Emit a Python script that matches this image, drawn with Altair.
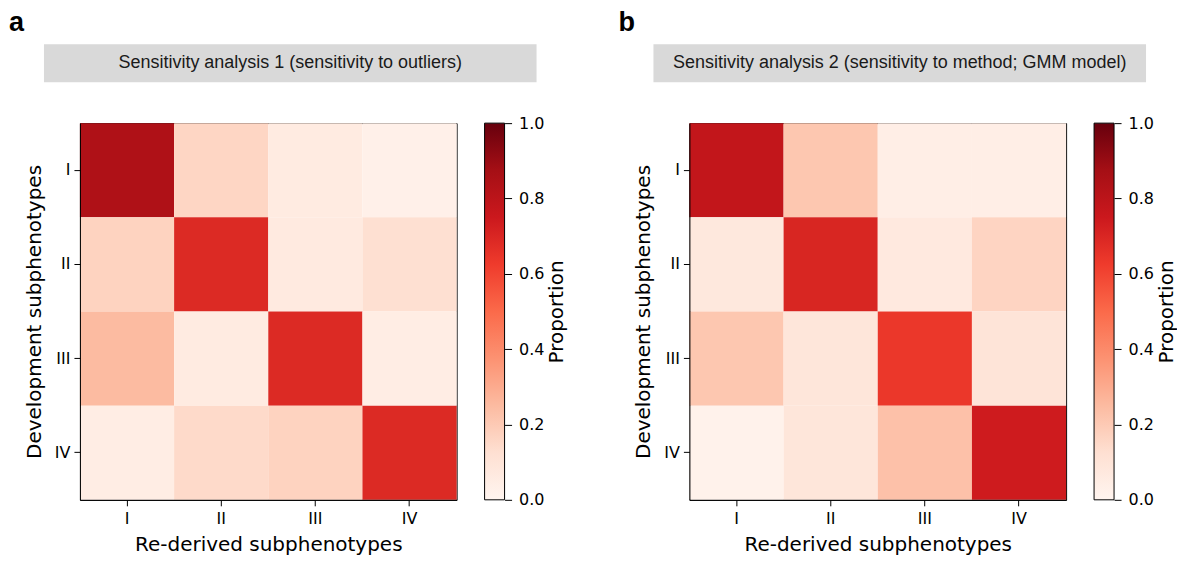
import altair as alt
import pandas as pd

categories = ["I", "II", "III", "IV"]
panel_letters = ["a", "b"]
panel_titles = [
    "Sensitivity analysis 1 (sensitivity to outliers)",
    "Sensitivity analysis 2 (sensitivity to method; GMM model)",
]
x_title = "Re-derived subphenotypes"
y_title = "Development subphenotypes"
legend_title = "Proportion"

# rows: Development subphenotype (I..IV), columns: Re-derived subphenotype (I..IV)
values_a = [
    [0.84, 0.16, 0.06, 0.03],
    [0.17, 0.69, 0.065, 0.125],
    [0.25, 0.06, 0.69, 0.05],
    [0.05, 0.145, 0.17, 0.69],
]
values_b = [
    [0.78, 0.21, 0.04, 0.04],
    [0.08, 0.705, 0.07, 0.165],
    [0.21, 0.09, 0.64, 0.10],
    [0.02, 0.09, 0.23, 0.74],
]
colorbar_range = [0.0, 1.0]
colorbar_ticks = [0.0, 0.2, 0.4, 0.6, 0.8, 1.0]
reds_domain = [0.0, 0.125, 0.25, 0.375, 0.5, 0.625, 0.75, 0.875, 1.0]
reds_range = ["#fff5f0", "#fee0d2", "#fcbba1", "#fc9272", "#fb6a4a",
              "#ef3b2c", "#cb181d", "#a50f15", "#67000d"]

W = 377
H = 377


def panel(vals, letter, title):
    rows = []
    for i, dev in enumerate(categories):
        for j, rd in enumerate(categories):
            rows.append({"dev": dev, "rd": rd, "Proportion": vals[i][j]})
    df = pd.DataFrame(rows)

    heat = alt.Chart(df).mark_rect().encode(
        x=alt.X("rd:O", sort=categories, title=x_title,
                scale=alt.Scale(paddingInner=0, paddingOuter=0),
                axis=alt.Axis(labelAngle=0, labelPadding=5, titlePadding=8)),
        y=alt.Y("dev:O", sort=categories, title=y_title,
                scale=alt.Scale(paddingInner=0, paddingOuter=0),
                axis=alt.Axis(labelAngle=0, labelPadding=4, titlePadding=10)),
        color=alt.Color(
            "Proportion:Q",
            scale=alt.Scale(domain=reds_domain, range=reds_range),
            legend=None,
        ),
    )

    # colorbar: a gradient-filled rect on its own quantitative scale (0..1)
    cb_df = pd.DataFrame({"lo": [colorbar_range[0]], "hi": [colorbar_range[1]]})
    grad = alt.Gradient(
        gradient="linear",
        stops=[alt.GradientStop(offset=o, color=c) for o, c in zip(reds_domain, reds_range)],
        x1=0, x2=0, y1=1, y2=0,
    )
    cbar = alt.Chart(cb_df).mark_rect(fill=grad, stroke="black", strokeWidth=1).encode(
        x=alt.value(W + 28), x2=alt.value(W + 48),
        y=alt.Y("lo:Q", scale=alt.Scale(domain=colorbar_range, nice=False, zero=False),
                axis=alt.Axis(orient="right", offset=48, values=colorbar_ticks, format=".1f",
                              domain=False, tickSize=7, labelPadding=7,
                              title=legend_title, titleAngle=270, titlePadding=3,
                              titleBaseline="top")),
        y2="hi:Q",
    )

    hdr = pd.DataFrame({"label": [title]})
    box = alt.Chart(hdr).mark_rect(fill="#d9d9d9").encode(
        x=alt.value(-36), x2=alt.value(457), y=alt.value(-79), y2=alt.value(-41)
    )
    txt = alt.Chart(hdr).mark_text(
        font="Liberation Sans", fontSize=18, color="#1a1a1a",
        align="center", baseline="middle",
    ).encode(x=alt.value(210.5), y=alt.value(-60), text="label:N")
    let = alt.Chart(pd.DataFrame({"l": [letter]})).mark_text(
        font="Liberation Sans", fontSize=27, fontWeight="bold", color="black",
        align="left", baseline="top",
    ).encode(x=alt.value(-71), y=alt.value(-113), text="l:N")

    return alt.layer(box, txt, let, heat, cbar).resolve_scale(y="independent").properties(
        width=W, height=H
    )


pa = panel(values_a, panel_letters[0], panel_titles[0])
pb = panel(values_b, panel_letters[1], panel_titles[1])

chart = alt.hconcat(pa, pb, spacing=50).properties(
    padding=0
).configure_view(stroke="black", strokeWidth=1).configure_axis(
    labelFont="DejaVu Sans", labelFontSize=16, labelColor="black",
    titleFont="DejaVu Sans", titleFontSize=20, titleFontWeight="normal", titleColor="black",
    tickColor="black", tickSize=6, tickWidth=1, domainColor="black", domainWidth=1,
    grid=False,
)

chart.save("out.html", embed_options={"renderer": "svg", "actions": False})
